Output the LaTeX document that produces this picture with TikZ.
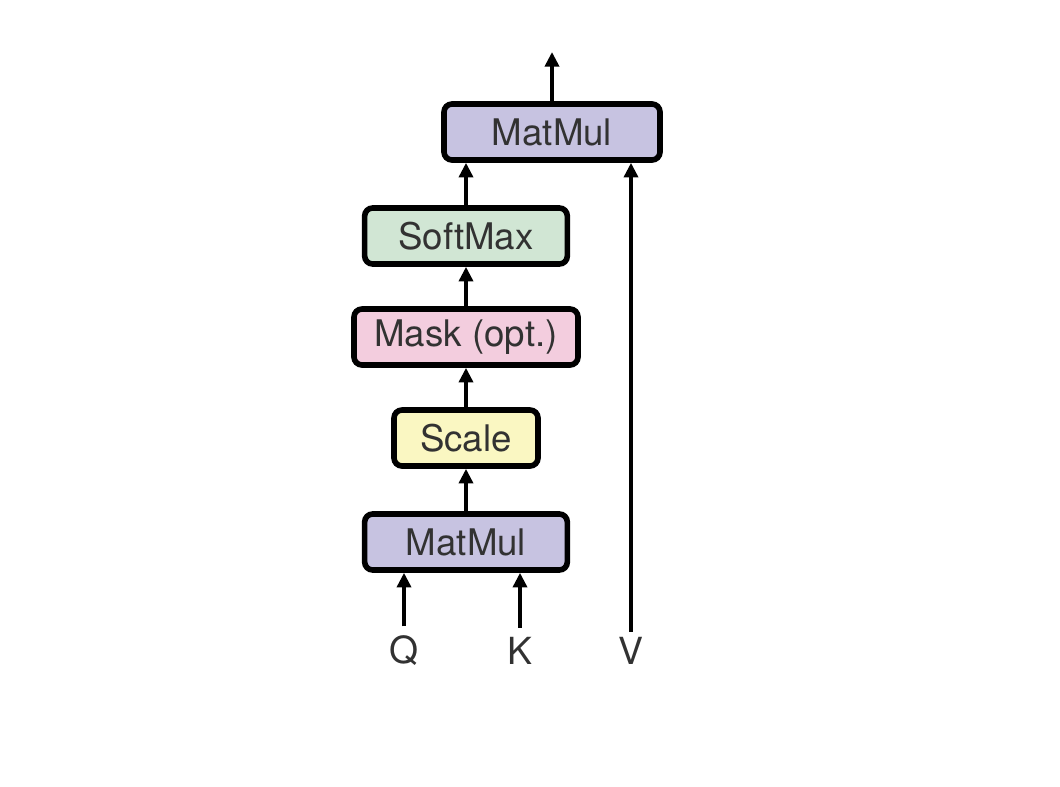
\documentclass[tikz,border=0pt]{standalone}
\usepackage{fontspec}
\setmainfont{TeX Gyre Heros}
\usetikzlibrary{arrows.meta}
\definecolor{cmat}{RGB}{199,195,225}
\definecolor{csoft}{RGB}{209,230,212}
\definecolor{cmask}{RGB}{243,205,222}
\definecolor{cscale}{RGB}{250,247,194}
\definecolor{ctext}{RGB}{50,50,50}
\begin{document}
\begin{tikzpicture}[x=0.75pt,y=-0.75pt,
  blk/.style={draw=black, line width=4.2pt, rounded corners=6pt,
    minimum height=42pt, inner sep=0pt,
    font=\fontsize{27.5}{32}\selectfont, text=ctext},
  lbl/.style={inner ysep=7pt, inner xsep=2pt, font=\fontsize{28}{32}\selectfont, text=ctext},
  arr/.style={line width=3.4pt, -{Triangle[length=11pt,width=10.5pt]}}]
\useasboundingbox (0,0) rectangle (1060,786);
\node[blk, fill=cmat, minimum width=162pt] (mm2) at (552,132) {MatMul};
\node[blk, fill=csoft, minimum width=152pt] (sm) at (466,236) {SoftMax};
\node[blk, fill=cmask, minimum width=168pt] (mask) at (466,337) {Mask (opt.)};
\node[blk, fill=cscale, minimum width=108pt] (sc) at (466,438) {Scale};
\node[blk, fill=cmat, minimum width=152pt] (mm1) at (466,542) {MatMul};
\node[lbl] (Q) at (404,651) {Q};
\node[lbl] (K) at (520,651) {K};
\node[lbl, inner ysep=4pt] (V) at (631,651) {V};
\coordinate (out) at (552,52);
\draw[arr] (mm2.north) -- (out);
\draw[arr] (sm.north) -- (sm.north |- mm2.south);
\draw[arr] (mask.north) -- (sm.south);
\draw[arr] (sc.north) -- (mask.south);
\draw[arr] (mm1.north) -- (sc.south);
\draw[arr] (Q.north) -- (Q.north |- mm1.south);
\draw[arr] (K.north) -- (K.north |- mm1.south);
\draw[arr] (V.north) -- (V.north |- mm2.south);
\end{tikzpicture}
\end{document}
